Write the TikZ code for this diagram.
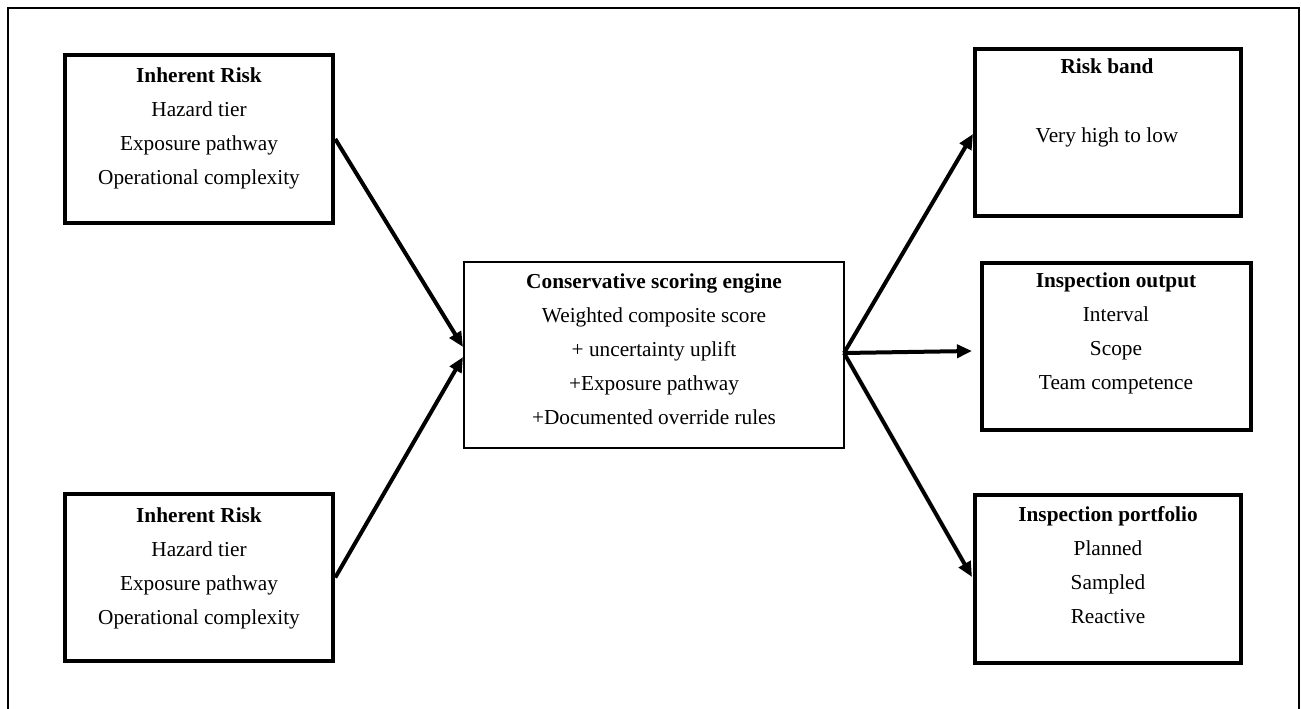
\documentclass[tikz,border=0pt]{standalone}
\usepackage{fontspec}
\setmainfont{Liberation Serif}
\usetikzlibrary{arrows.meta}
\begin{document}
\begin{tikzpicture}[x=1pt,y=-1pt,
  boxthick/.style={draw=black, line width=4.5pt, inner sep=0pt},
  boxthin/.style={draw=black, line width=2pt, inner sep=0pt},
  lbl/.style={anchor=base, inner sep=0pt, font=\fontsize{21.3}{34.2}\selectfont},
  conn/.style={line width=4pt, -{Triangle[length=15pt,width=13pt]}},
  framestyle/.style={line width=1.5pt}]
\useasboundingbox (0,0) rectangle (1301,709);
\fill[white] (0,0) rectangle (1301,709);
% outer frame
\coordinate (fa) at (8,712);
\coordinate (fb) at (8,8);
\coordinate (fc) at (1299,8);
\coordinate (fd) at (1299,712);
\draw[framestyle] (fa) -- (fb) -- (fc) -- (fd);

% boxes
\node[boxthick, minimum width=268pt, minimum height=168pt] (ir1) at (199,139) {};
\node[boxthick, minimum width=268pt, minimum height=167pt] (ir2) at (199,577.5) {};
\node[boxthin, minimum width=380pt, minimum height=186pt] (ce) at (654,355) {};
\node[boxthick, minimum width=266pt, minimum height=167pt] (rb) at (1108,132.5) {};
\node[boxthick, minimum width=269pt, minimum height=167pt] (io) at (1116.5,346.5) {};
\node[boxthick, minimum width=266pt, minimum height=168pt] (ip) at (1108,579) {};

% texts
\node[lbl] (t1) at (199,82) {\begin{tabular}[t]{@{}c@{}}\textbf{Inherent Risk}\\ Hazard tier\\ Exposure pathway\\ Operational complexity\end{tabular}};
\node[lbl] (t2) at (199,522) {\begin{tabular}[t]{@{}c@{}}\textbf{Inherent Risk}\\ Hazard tier\\ Exposure pathway\\ Operational complexity\end{tabular}};
\node[lbl] (tc) at (654,288) {\begin{tabular}[t]{@{}c@{}}\textbf{Conservative scoring engine}\\ Weighted composite score\\ + uncertainty uplift\\ +Exposure pathway\\ +Documented override rules\end{tabular}};
\node[lbl] (trb) at (1107,74) {\begin{tabular}[t]{@{}c@{}}\textbf{Risk band}\\ \\ Very high to low\end{tabular}};
\node[lbl] (tio) at (1116,287) {\begin{tabular}[t]{@{}c@{}}\textbf{Inspection output}\\ Interval\\ Scope\\ Team competence\end{tabular}};
\node[lbl] (tip) at (1108,521) {\begin{tabular}[t]{@{}c@{}}\textbf{Inspection portfolio}\\ Planned\\ Sampled\\ Reactive\end{tabular}};

% connector end points
\coordinate (cin1) at (463,347);
\coordinate (cin2) at (463,357);
\coordinate (cout) at (844,353);
\coordinate (rbin) at (973,134);
\coordinate (ioin) at (972,351);
\coordinate (ipin) at (972,577);

\draw[conn] (ir1.east) -- (cin1);
\draw[conn] (ir2.east) -- (cin2);
\draw[conn] (cout) -- (rbin);
\draw[conn] (cout) -- (ioin);
\draw[conn] (cout) -- (ipin);
\end{tikzpicture}
\end{document}
